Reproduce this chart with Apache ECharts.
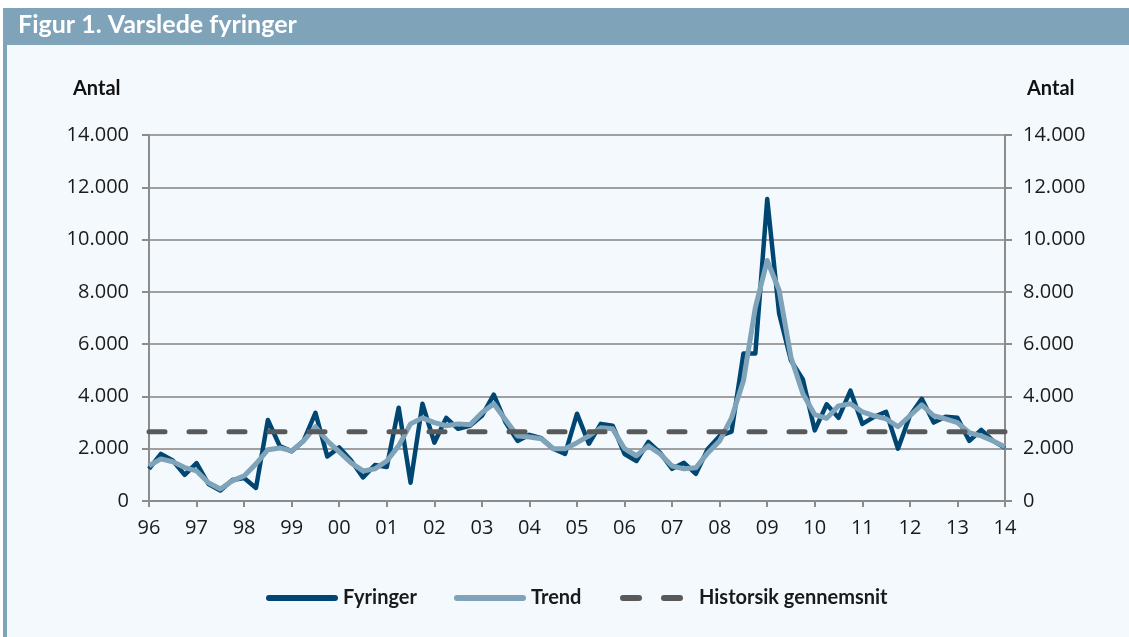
<!DOCTYPE html>
<html>
<head>
<meta charset="utf-8">
<script src="https://cdn.jsdelivr.net/npm/echarts@6.0.0/dist/echarts.min.js"></script>
<style>
html,body{margin:0;padding:0;background:#ffffff;}
#chart{width:1129px;height:637px;}
</style>
</head>
<body>
<div id="chart"></div>
<script>
// ---- data ----
var years = ["96","97","98","99","00","01","02","03","04","05","06","07","08","09","10","11","12","13","14"];
var quartersPerYear = 4;
var fyringer = [1230,1800,1550,1000,1450,650,400,800,880,500,3100,2100,1900,2300,3370,1700,2050,1550,900,1380,1300,3570,700,3720,2230,3180,2760,2880,3260,4070,3000,2300,2530,2400,2000,1800,3340,2190,2950,2880,1800,1530,2260,1840,1230,1460,1040,1990,2490,2650,5640,5640,11550,7170,5370,4650,2700,3700,3180,4220,2950,3220,3410,2000,3260,3910,3000,3220,3180,2300,2720,2300,2030];
var trend = [1340,1610,1500,1280,1150,700,460,770,960,1420,1960,2030,1920,2300,2840,2300,1880,1460,1150,1230,1530,2110,2950,3180,3000,2880,2950,2920,3380,3720,3100,2490,2450,2380,2000,2000,2230,2490,2800,2760,2000,1730,2110,1800,1340,1230,1270,1840,2300,3180,4600,7400,9200,8060,5490,4100,3300,3160,3640,3720,3410,3260,3140,2840,3260,3680,3260,3140,3000,2610,2490,2300,2070];
var historiskGennemsnit = 2650;
var seriesNames = ["Fyringer","Trend","Historsik gennemsnit"];
var titleText = "Figur 1. Varslede fyringer";
var axisTitle = "Antal";

// categories: quarters from 96K1 to 14K1
var categories = [];
for (var y = 0; y < years.length; y++) {
  for (var q = 1; q <= quartersPerYear; q++) {
    if (y === years.length - 1 && q > 1) break;
    categories.push(years[y] + "K" + q);
  }
}
var histData = categories.map(function(){ return historiskGennemsnit; });

function fmt(v){ return String(v).replace(/\B(?=(\d{3})+(?!\d))/g, "."); }

var FONT = "'Open Sans', sans-serif";
var BOLD = "Lato, sans-serif";
var dark = "#004672";
var light = "#7fa3b9";
var dashCol = "#595959";

var chart = echarts.init(document.getElementById('chart'), null, {renderer:'canvas'});

var yAxisCommon = {
  type: 'value', min: 0, max: 14000, interval: 2000,
  axisLine: {show: true, lineStyle: {color: '#8c8c8c', width: 2}},
  axisTick: {show: true, length: 7, lineStyle: {color: '#8c8c8c', width: 2}},
  axisLabel: {formatter: fmt, fontFamily: FONT, fontSize: 20, color: '#1a1a1a', margin: 20},
  splitLine: {show: true, lineStyle: {color: '#a0a0a0', width: 2}}
};

var legendText = {fontFamily: BOLD, fontWeight: 'bold', fontSize: 20, color: '#1a1a1a'};
var legendCommon = {
  orient: 'horizontal', top: 588, itemHeight: 20, itemGap: 0, padding: 0,
  itemStyle: {opacity: 0},
  selectedMode: false
};

chart.setOption({
  animation: false,
  backgroundColor: '#ffffff',
  graphic: [
    {type: 'rect', z: -10, shape: {x: 7, y: 45, width: 1122, height: 592}, style: {fill: '#f4f9fd'}},
    {type: 'rect', z: -10, shape: {x: 3, y: 8, width: 1126, height: 37}, style: {fill: light}},
    {type: 'rect', z: -10, shape: {x: 3, y: 45, width: 4, height: 592}, style: {fill: light}},
    {type: 'text', left: 18, top: 12, style: {text: titleText, fill: '#ffffff', font: "bold 25px Lato, sans-serif"}},
    {type: 'text', left: 73, top: 79, style: {text: axisTitle, fill: '#111111', font: "bold 20px Lato, sans-serif"}},
    {type: 'text', left: 1027, top: 79, style: {text: axisTitle, fill: '#111111', font: "bold 20px Lato, sans-serif"}}
  ],
  grid: {left: 149, right: 124, top: 135, bottom: 136, containLabel: false},
  xAxis: {
    type: 'category', data: categories, boundaryGap: false,
    axisLine: {show: true, lineStyle: {color: '#8c8c8c', width: 2}},
    axisTick: {show: true, length: 6, interval: 3, lineStyle: {color: '#8c8c8c', width: 2}},
    axisLabel: {interval: 3, fontFamily: FONT, fontSize: 20, color: '#1a1a1a', margin: 17,
      formatter: function(v){ return v.split("K")[0]; }},
    splitLine: {show: false}
  },
  yAxis: [
    Object.assign({}, yAxisCommon, {position: 'left'}),
    Object.assign({}, yAxisCommon, {position: 'right', splitLine: {show: false},
      axisLabel: Object.assign({}, yAxisCommon.axisLabel, {margin: 18})})
  ],
  legend: [
    Object.assign({}, legendCommon, {data: [seriesNames[0]], left: 266, itemWidth: 66,
      textStyle: Object.assign({}, legendText, {padding: [0,0,0,3]}),
      lineStyle: {width: 6, cap: 'round'}}),
    Object.assign({}, legendCommon, {data: [seriesNames[1]], left: 454, itemWidth: 66,
      textStyle: Object.assign({}, legendText, {padding: [0,0,0,3]}),
      lineStyle: {width: 6, cap: 'round'}}),
    Object.assign({}, legendCommon, {data: [seriesNames[2]], left: 620, itemWidth: 60,
      textStyle: Object.assign({}, legendText, {padding: [0,0,0,11]}),
      lineStyle: {width: 6, type: [16, 25], cap: 'round'}})
  ],
  series: [
    {name: seriesNames[0], type: 'line', data: fyringer, symbol: 'none', showSymbol: false, z: 2,
      lineStyle: {color: dark, width: 4.5, join: 'round'}, itemStyle: {color: dark}},
    {name: seriesNames[1], type: 'line', data: trend, symbol: 'none', showSymbol: false, z: 3,
      lineStyle: {color: light, width: 5, join: 'round'}, itemStyle: {color: light}},
    {name: seriesNames[2], type: 'line', data: histData, symbol: 'none', showSymbol: false, z: 4,
      lineStyle: {color: dashCol, width: 5, type: [16, 24], cap: 'round'}, itemStyle: {color: dashCol}}
  ]
});
</script>
</body>
</html>
